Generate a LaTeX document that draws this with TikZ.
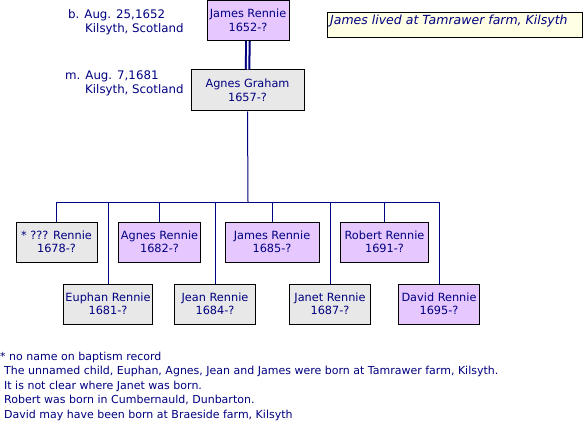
\documentclass[tikz,border=0pt]{standalone}
\usepackage{fontspec}
\setmainfont{DejaVu Sans}
\definecolor{navy}{RGB}{0,0,128}
\definecolor{lilac}{RGB}{230,200,255}
\definecolor{lgrey}{RGB}{232,232,232}
\definecolor{cream}{RGB}{255,255,228}
\tikzset{
  txt/.style={font=\fontsize{11.3}{13.5}\selectfont, text=navy},
  ann/.style={font=\fontsize{11.8}{13.5}\selectfont, text=navy, inner sep=0pt, anchor=west},
  person/.style={txt, draw=black, line width=1pt, minimum height=40, inner sep=0pt, align=center},
  male/.style={person, fill=lilac},
  female/.style={person, fill=lgrey},
  conn/.style={draw=navy, line width=1pt},
}
\begin{document}
\begin{tikzpicture}[x=1pt,y=-1pt]
\useasboundingbox (0,0) rectangle (583,422);
% parents
\node[male, minimum width=82] (jr) at (248,20.5) {James Rennie\\1652-?};
\node[female, minimum width=113, minimum height=41] (ag) at (247.5,90.5) {Agnes Graham\\1657-?};
% annotations
\node[ann] (bdate) at (68,15) {b. Aug. 25,1652};
\node[ann] (bplace) at (85,29) {Kilsyth, Scotland};
\node[ann] (mdate) at (65,76) {m. Aug. 7,1681};
\node[ann] (mplace) at (85,90) {Kilsyth, Scotland};
% note
\node[draw=black, line width=1pt, fill=cream, minimum width=255, minimum height=25, inner sep=0pt] (note) at (454.5,25.5) {};
\node[txt, anchor=west, inner sep=0pt, font=\fontsize{12.5}{14}\selectfont\itshape] (notetxt) at (330,21) {James lived at Tamrawer farm, Kilsyth};
% children
\node[female, minimum width=81] (c1) at (56.5,242) {* ??? Rennie\\1678-?};
\node[male, minimum width=82] (c2) at (159.5,242) {Agnes Rennie\\1682-?};
\node[male, minimum width=94] (c3) at (272,242) {James Rennie\\1685-?};
\node[male, minimum width=88] (c4) at (384.5,242) {Robert Rennie\\1691-?};
\node[female, minimum width=89] (c5) at (108,304) {Euphan Rennie\\1681-?};
\node[female, minimum width=81] (c6) at (215,304) {Jean Rennie\\1684-?};
\node[female, minimum width=81] (c7) at (330,304) {Janet Rennie\\1687-?};
\node[male, minimum width=81] (c8) at (439,304) {David Rennie\\1695-?};
% marriage
\draw[navy, line width=2pt, double=white, double distance=1.5pt] (jr.south) -- (ag.north);
% descent
\coordinate (bus) at (248,202);
\draw[conn] (ag.south) -- (bus);
\draw[conn] (c1.north |- bus) -- (c8.north |- bus);
\foreach \c in {c1,c2,c3,c4,c5,c6,c7,c8}{
  \draw[conn] (\c.north) -- (\c.north |- bus);
}
% footnotes
\node[txt, anchor=north west, align=left, inner sep=0pt, font=\fontsize{11}{14.5}\selectfont] (foot) at (0,351.5) {* no name on baptism record\\
\hspace*{4pt}The unnamed child, Euphan, Agnes, Jean and James were born at Tamrawer farm, Kilsyth.\\
\hspace*{4pt}It is not clear where Janet was born.\\
\hspace*{4pt}Robert was born in Cumbernauld, Dunbarton.\\
\hspace*{4pt}David may have been born at Braeside farm, Kilsyth};
\end{tikzpicture}
\end{document}
